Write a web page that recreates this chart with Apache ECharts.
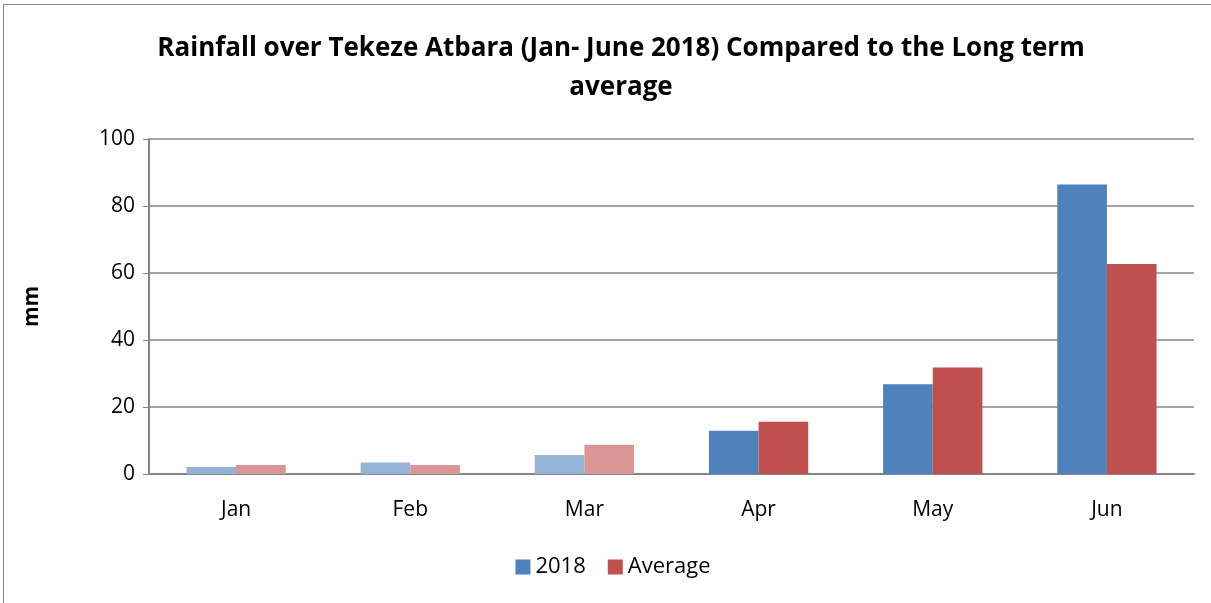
<!DOCTYPE html>
<html>
<head>
<meta charset="utf-8">
<script src="https://cdn.jsdelivr.net/npm/echarts@6/dist/echarts.min.js"></script>
<style>
  html, body { margin: 0; padding: 0; background: #fff; }
  #chart { position: absolute; left: 3px; top: 4px; width: 1220px; height: 610px;
           border: 1px solid #8c8c8c; box-sizing: border-box; }
</style>
</head>
<body>
<div id="chart"></div>
<script>
  // months
  var months = ['Jan', 'Feb', 'Mar', 'Apr', 'May', 'Jun'];
  // rainfall in mm
  var rain2018 = [2.1, 3.4, 5.7, 12.9, 26.8, 86.4];
  var rainAvg = [2.7, 2.7, 8.7, 15.6, 31.8, 62.7];
  var yTicks = [0, 20, 40, 60, 80, 100];

  // first three months are drawn paler
  var paleCount = 3;
  function colourBars(values, normal, pale) {
    return values.map(function (v, i) {
      return { value: v, itemStyle: { color: i < paleCount ? pale : normal } };
    });
  }

  var chart = echarts.init(document.getElementById('chart'));
  chart.setOption({
    animation: false,
    textStyle: { fontFamily: 'Open Sans' },
    title: {
      text: 'Rainfall over Tekeze Atbara (Jan- June 2018) Compared to the Long term\naverage',
      left: 612, top: 19, textAlign: 'center',
      textStyle: { fontSize: 26, fontWeight: 'bold', color: '#000', lineHeight: 39 }
    },
    legend: {
      bottom: 30, left: 'center',
      itemWidth: 15, itemHeight: 15, itemGap: 22,
      icon: 'rect',
      textStyle: { fontSize: 22, color: '#000' },
      data: ['2018', 'Average']
    },
    grid: { left: 145, right: 28, top: 134, bottom: 139 },
    xAxis: {
      type: 'category',
      data: months,
      axisLine: { lineStyle: { color: '#868686', width: 2 } },
      axisTick: { show: false },
      axisLabel: { fontSize: 21, color: '#000', margin: 26 }
    },
    yAxis: {
      type: 'value',
      min: yTicks[0], max: yTicks[yTicks.length - 1], interval: 20,
      name: 'mm', nameLocation: 'middle', nameGap: 106, nameRotate: 90,
      nameTextStyle: { fontSize: 21, fontWeight: 'bold', color: '#000' },
      axisLine: { show: true, lineStyle: { color: '#868686', width: 2 } },
      axisTick: { show: true, length: 6, lineStyle: { color: '#868686' } },
      axisLabel: { fontSize: 21, color: '#000', margin: 14 },
      splitLine: { lineStyle: { color: '#868686', width: 1.5 } }
    },
    series: [
      {
        name: '2018', type: 'bar',
        barGap: '0%', barCategoryGap: '43%',
        itemStyle: { color: '#4F81BD' },
        data: colourBars(rain2018, '#4F81BD', '#95B3D7')
      },
      {
        name: 'Average', type: 'bar',
        itemStyle: { color: '#C0504D' },
        data: colourBars(rainAvg, '#C0504D', '#D99694')
      }
    ]
  });
</script>
</body>
</html>
